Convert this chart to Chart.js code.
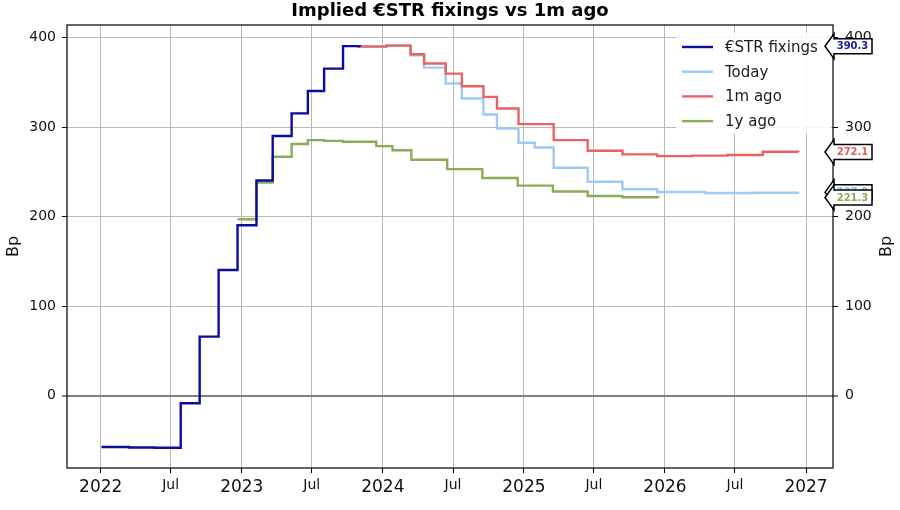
<!DOCTYPE html>
<html>
<head>
<meta charset="utf-8">
<script src="https://cdn.jsdelivr.net/npm/chart.js@4.4.1/dist/chart.umd.min.js"></script>
<style>
  html, body { margin: 0; padding: 0; background: #fff; }
</style>
</head>
<body>
<canvas id="chart" width="900" height="510"></canvas>
<script>
const FONT = "'DejaVu Sans', sans-serif";

// €STR fixings (bp)
const fixDates = ['2022-01-03', '2022-03-15', '2022-05-20', '2022-07-27', '2022-09-14', '2022-11-02',
  '2022-12-21', '2023-02-08', '2023-03-22', '2023-05-10', '2023-06-21', '2023-08-02', '2023-09-20', '2023-11-03'];
const fixVals = [-57.6, -58.1, -58.4, -8.6, 65.8, 140.2, 190.2, 240.3, 290.0, 315.3, 340.3, 365.2, 390.4, 390.3];

// implied path today
const todayDates = ['2023-10-26', '2024-01-10', '2024-03-13', '2024-04-17', '2024-06-12', '2024-07-24',
  '2024-09-18', '2024-10-23', '2024-12-18', '2025-01-29', '2025-03-19', '2025-06-15', '2025-09-13',
  '2025-12-12', '2026-04-15', '2026-08-15', '2026-12-12'];
const todayVals = [390.3, 391.2, 380.2, 366.4, 348.6, 331.8, 314.0, 298.4, 282.4, 277.2, 254.5, 238.9,
  230.4, 227.4, 226.3, 226.6, 227.0];

// implied path 1m ago
const monthDates = ['2023-10-26', '2024-01-10', '2024-03-13', '2024-04-17', '2024-06-12', '2024-07-24',
  '2024-09-18', '2024-10-23', '2024-12-18', '2025-03-19', '2025-06-15', '2025-09-13', '2025-12-12',
  '2026-03-13', '2026-06-12', '2026-09-11', '2026-12-12'];
const monthVals = [389.8, 391.0, 381.3, 370.9, 359.7, 345.6, 333.7, 320.7, 303.2, 285.4, 273.5, 269.4,
  267.5, 268.0, 268.7, 272.3, 272.1];

// implied path 1y ago
const yearDates = ['2022-12-21', '2023-02-08', '2023-03-22', '2023-05-10', '2023-06-21', '2023-08-02',
  '2023-09-20', '2023-12-15', '2024-01-26', '2024-03-15', '2024-06-16', '2024-09-15', '2024-12-16',
  '2025-03-17', '2025-06-15', '2025-09-13', '2025-12-15'];
const yearVals = [197.0, 238.0, 266.8, 281.0, 285.4, 284.5, 283.5, 278.7, 274.0, 263.5, 253.0, 243.0,
  234.5, 228.0, 223.0, 221.5, 221.3];

const xTickDates = ['2022-01-01', '2022-07-01', '2023-01-01', '2023-07-01', '2024-01-01', '2024-07-01',
  '2025-01-01', '2025-07-01', '2026-01-01', '2026-07-01', '2027-01-01'];
const xTickLabels = ['2022', 'Jul', '2023', 'Jul', '2024', 'Jul', '2025', 'Jul', '2026', 'Jul', '2027'];
const yTicks = [0, 100, 200, 300, 400];

// date string -> decimal year
function toYear(s) {
  const [y, m, d] = s.split('-').map(Number);
  const t0 = Date.UTC(y, 0, 1), t1 = Date.UTC(y + 1, 0, 1);
  return y + (Date.UTC(y, m - 1, d) - t0) / (t1 - t0);
}
const pts = (dates, vals) => dates.map((d, i) => ({ x: toYear(d), y: vals[i] }));

const series = [
  { label: '€STR fixings', dates: fixDates, vals: fixVals, color: '#0b0b9c', tag: '#1a1aa8', order: 0 },
  { label: 'Today', dates: todayDates, vals: todayVals, color: '#9ec9f5', tag: '#8fbbe8', order: 2 },
  { label: '1m ago', dates: monthDates, vals: monthVals, color: '#e8625f', tag: '#e0605c', order: 1 },
  { label: '1y ago', dates: yearDates, vals: yearVals, color: '#8aac55', tag: '#8aac55', order: 3 },
];

const datasets = series.map(s => ({
  label: s.label,
  data: pts(s.dates, s.vals),
  borderColor: s.color,
  backgroundColor: s.color,
  borderWidth: 2.4,
  pointRadius: 0,
  stepped: true,
  order: s.order,
}));

const decorPlugin = {
  id: 'decor',
  beforeDraw(chart) {
    const ctx = chart.ctx;
    ctx.save();
    ctx.fillStyle = '#fff';
    ctx.fillRect(0, 0, chart.width, chart.height);
    ctx.restore();
  },
  afterDatasetsDraw(chart) {
    const { ctx, chartArea: a } = chart;
    ctx.save();
    // frame
    ctx.strokeStyle = '#000';
    ctx.lineWidth = 1.2;
    ctx.strokeRect(a.left, a.top, a.right - a.left, a.bottom - a.top);

    // title
    ctx.fillStyle = '#000';
    ctx.font = 'bold 18px ' + FONT;
    ctx.textAlign = 'center';
    ctx.textBaseline = 'alphabetic';
    ctx.fillText('Implied €STR fixings vs 1m ago', (a.left + a.right) / 2, 16);

    // right axis title, reading upwards like the left one
    ctx.save();
    ctx.translate(chart.width - 13, (a.top + a.bottom) / 2);
    ctx.rotate(-Math.PI / 2);
    ctx.font = '16px ' + FONT;
    ctx.fillStyle = '#111';
    ctx.textBaseline = 'middle';
    ctx.fillText('Bp', 0, 0);
    ctx.restore();

    // legend
    const lx = a.right - 157, ly = a.top + 8;
    ctx.fillStyle = 'rgba(255,255,255,0.88)';
    ctx.fillRect(lx, ly, 155, 101);
    ctx.font = '15px ' + FONT;
    ctx.textAlign = 'left';
    ctx.textBaseline = 'middle';
    chart.data.datasets.forEach((ds, i) => {
      const y = ly + 14 + i * 24.7;
      ctx.strokeStyle = ds.borderColor;
      ctx.lineWidth = 2.4;
      ctx.beginPath();
      ctx.moveTo(lx + 6, y);
      ctx.lineTo(lx + 37, y);
      ctx.stroke();
      ctx.fillStyle = '#1a1a1a';
      ctx.fillText(ds.label, lx + 49, y + 1);
    });
    ctx.restore();
  },
  afterDraw(chart) {
    const { ctx, chartArea: a } = chart;
    const yScale = chart.scales.y;
    // last value tags, drawn so that 1y ago sits on top of Today
    const tagOrder = [0, 2, 1, 3];
    ctx.save();
    tagOrder.forEach(i => {
      const s = series[i];
      const v = s.vals[s.vals.length - 1];
      const yc = yScale.getPixelForValue(v);
      const xt = a.right - 8, hw = 9, hh = 12.5, bh = 7.5, xr = a.right + 39;
      ctx.beginPath();
      ctx.moveTo(xt, yc);
      ctx.lineTo(xt + hw, yc - hh);
      ctx.lineTo(xt + hw, yc - bh);
      ctx.lineTo(xr, yc - bh);
      ctx.lineTo(xr, yc + bh);
      ctx.lineTo(xt + hw, yc + bh);
      ctx.lineTo(xt + hw, yc + hh);
      ctx.closePath();
      ctx.fillStyle = '#fff';
      ctx.fill();
      ctx.strokeStyle = '#000';
      ctx.lineWidth = 1.5;
      ctx.stroke();
      ctx.fillStyle = s.tag;
      ctx.font = 'bold 10px ' + FONT;
      ctx.textAlign = 'center';
      ctx.textBaseline = 'middle';
      ctx.fillText(v.toFixed(1), xt + hw + 18.5, yc + 0.5);
    });
    ctx.restore();
  },
};

const yAxis = (position) => ({
  type: 'linear',
  position: position,
  min: -81,
  max: 414,
  afterBuildTicks: (scale) => { scale.ticks = yTicks.map(v => ({ value: v })); },
  afterFit: (scale) => { scale.width = 67; },
  border: { display: false },
  grid: {
    drawOnChartArea: position === 'left',
    color: (c) => (c.tick && c.tick.value === 0 ? '#7f7f7f' : '#b8b8b8'),
    lineWidth: (c) => (c.tick && c.tick.value === 0 ? 2 : 1),
    tickColor: '#000',
    tickLength: 5,
    tickWidth: 1,
  },
  ticks: { color: '#111', font: { family: FONT, size: 14 }, padding: position === 'left' ? 6 : 7 },
  title: {
    display: position === 'left',
    text: 'Bp',
    color: '#111',
    font: { family: FONT, size: 16 },
    padding: { top: 4, bottom: 4 },
  },
});

new Chart(document.getElementById('chart'), {
  type: 'line',
  data: { datasets: datasets },
  options: {
    responsive: false,
    animation: false,
    devicePixelRatio: 1,
    layout: { padding: { top: 25, left: 0, right: 0, bottom: 0 } },
    plugins: {
      legend: { display: false },
      title: { display: false },
      tooltip: { enabled: false },
    },
    scales: {
      x: {
        type: 'linear',
        min: 2021.761,
        max: 2027.191,
        afterBuildTicks: (scale) => { scale.ticks = xTickDates.map(d => ({ value: toYear(d) })); },
        afterFit: (scale) => { scale.height = 42; },
        border: { display: false },
        grid: { color: '#b8b8b8', lineWidth: 1, tickColor: '#000', tickLength: 5 },
        ticks: {
          autoSkip: false,
          maxRotation: 0,
          padding: 4,
          color: '#111',
          callback: (value, index) => xTickLabels[index],
          font: (c) => ({ family: FONT, size: xTickLabels[c.index] === 'Jul' ? 14 : 17 }),
        },
      },
      y: yAxis('left'),
      y2: yAxis('right'),
    },
  },
  plugins: [decorPlugin],
});
</script>
</body>
</html>
